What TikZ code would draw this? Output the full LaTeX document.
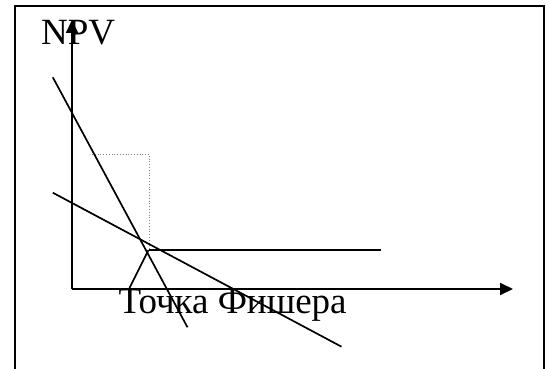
\documentclass[tikz,border=0pt]{standalone}
\usepackage{fontspec}
\setmainfont{Liberation Serif}
\usetikzlibrary{arrows.meta}
\begin{document}
\begin{tikzpicture}[x=1pt,y=-1pt,
  frame/.style={line width=2.5pt,black},
  axis/.style={line width=1.9pt,-{Triangle[length=13pt,width=12pt]}},
  curve/.style={line width=1.7pt},
  guide/.style={line width=0.8pt,dotted,gray},
  lbl/.style={inner sep=0pt,anchor=base west,font=\fontsize{37}{42}\selectfont}]
\useasboundingbox (0,0) rectangle (549,369);
\begin{scope}
\clip (0,0) rectangle (549,369);
\draw[frame] (15,380) -- (15,6) -- (544,6) -- (544,380);
\end{scope}
% coordinates
\coordinate (O) at (72,289);
\coordinate (Ytip) at (72,20);
\coordinate (Xtip) at (513,289);
\coordinate (A1) at (52.8,77.3);
\coordinate (A2) at (187.5,327.3);
\coordinate (B1) at (52.8,192.7);
\coordinate (B2) at (341.5,346.7);
\coordinate (H1) at (148.5,250);
\coordinate (H2) at (381,250);
\coordinate (S1) at (129.5,288);
\coordinate (D1) at (92,154);
\coordinate (D2) at (149,154);
\coordinate (D3) at (149,250);
% axes
\draw[axis] (O) -- (Ytip);
\draw[axis] (O) -- (Xtip);
% guide
\draw[guide] (D1) -- (D2) -- (D3);
% lines
\draw[curve] (A1) -- (A2);
\draw[curve] (B1) -- (B2);
\draw[curve] (H1) -- (H2);
\draw[curve] (S1) -- (H1);
% labels
\node[lbl] (npv) at (41,45) {NPV};
\node[lbl] (fisher) at (118.5,313) {Точка Фишера};
\end{tikzpicture}
\end{document}
